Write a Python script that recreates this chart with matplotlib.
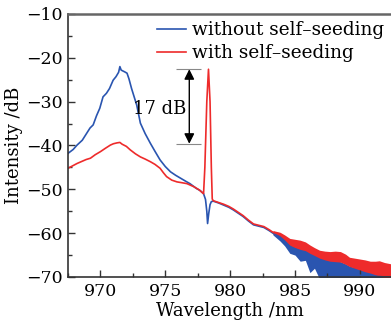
import numpy as np
import matplotlib
matplotlib.use("Agg")
import matplotlib.pyplot as plt
from matplotlib.ticker import MultipleLocator

plt.rcParams['font.family'] = ['DejaVu Serif']
plt.rcParams['font.size'] = 13

# spectrum without self-seeding (smooth part)
wl_blue = [967.5, 967.9, 968.2, 968.6, 968.9, 969.2, 969.44, 969.7, 969.95, 970.2,
           970.46, 970.7, 970.98, 971.2, 971.4, 971.5, 971.6, 971.87, 972.05, 972.2,
           972.4, 972.6, 972.8, 973.08, 973.45, 973.85, 974.2, 974.6, 975.0, 975.4,
           975.8, 976.2, 976.6, 976.9, 977.4, 977.7, 977.95, 978.1, 978.2, 978.26,
           978.35, 978.45, 978.55, 978.7, 979.1, 979.5, 979.9, 980.25, 980.6, 981.0,
           981.4, 981.8, 982.2, 982.6, 983.0, 983.3]
int_blue = [-41.8, -40.9, -39.9, -38.8, -37.4, -36.0, -35.3, -33.2, -31.5, -28.9,
            -28.1, -27.0, -25.1, -24.3, -23.3, -22.0, -22.8, -23.2, -23.5, -24.8,
            -27.0, -28.9, -30.8, -34.9, -37.3, -39.5, -41.3, -43.3, -44.8, -46.0,
            -46.8, -47.5, -48.2, -48.7, -49.8, -50.3, -51.0, -52.3, -55.0, -57.8,
            -55.5, -53.5, -52.8, -52.7, -53.1, -53.6, -54.1, -54.7, -55.4, -56.2,
            -57.2, -58.1, -58.4, -58.7, -59.4, -60.0]

# spectrum with self-seeding (smooth part)
wl_red = [967.5, 968.2, 968.9, 969.23, 969.6, 970.0, 970.4, 970.77, 971.0, 971.28,
          971.5, 971.67, 972.0, 972.3, 972.7, 973.08, 973.45, 973.85, 974.2, 974.6,
          974.85, 975.1, 975.5, 975.9, 976.3, 976.67, 977.2, 977.6, 977.95, 978.05,
          978.2, 978.33, 978.45, 978.55, 978.62, 978.7, 979.1, 979.5, 979.9, 980.25,
          980.6, 981.0, 981.4, 981.8, 982.2, 982.6, 983.0, 983.3]
int_red = [-45.2, -44.1, -43.2, -42.9, -42.1, -41.4, -40.6, -39.9, -39.6, -39.4,
           -39.3, -39.7, -40.2, -41.0, -41.9, -42.6, -43.1, -43.7, -44.3, -45.2,
           -46.2, -47.1, -47.9, -48.3, -48.5, -48.7, -49.4, -50.1, -51.0, -45.0,
           -30.0, -22.6, -30.0, -45.0, -52.2, -52.6, -53.0, -53.4, -53.9, -54.5,
           -55.2, -56.0, -57.0, -57.9, -58.2, -58.5, -59.2, -59.8]

# noisy long-wavelength tail: centre line and envelope
wl_tail = [983.3, 983.85, 984.2, 984.6, 985.0, 985.4, 985.8, 986.15, 986.5, 986.9,
           987.3, 987.7, 988.1, 988.5, 988.9, 989.2, 989.6, 990.0, 990.4, 990.8,
           991.2, 991.5, 991.9, 992.4]
blue_mid = [-60.0, -60.9, -61.8, -63.0, -63.6, -64.2, -64.9, -65.8, -66.4, -67.0,
            -67.6, -68.1, -68.4, -68.8, -69.1, -69.3, -69.5, -69.6, -69.7, -69.8,
            -69.9, -69.9, -70.0, -70.0]
blue_lo = [-60.4, -61.8, -62.9, -64.6, -65.0, -66.4, -66.2, -69.0, -68.0, -70.5,
           -70.5, -70.5, -70.5, -70.5, -70.5, -70.5, -70.5, -70.5, -70.5, -70.5,
           -70.5, -70.5, -70.5, -70.5]
blue_hi = [-59.6, -60.4, -61.2, -62.3, -62.6, -63.0, -63.5, -64.0, -64.6, -65.0,
           -65.4, -65.8, -66.1, -66.5, -67.0, -67.5, -67.8, -68.0, -68.3, -68.5,
           -68.7, -68.8, -68.9, -69.0]
red_mid = [-59.8, -60.3, -61.0, -62.0, -62.3, -62.6, -63.0, -63.6, -64.2, -64.8,
           -65.1, -65.3, -65.3, -65.4, -65.9, -66.5, -66.8, -67.1, -67.4, -67.7,
           -68.0, -68.1, -68.3, -68.6]
red_lo = [-60.2, -60.9, -61.7, -62.9, -63.3, -63.7, -64.0, -64.6, -65.1, -65.7,
          -66.1, -66.4, -66.5, -66.6, -67.1, -67.6, -68.0, -68.4, -68.8, -69.1,
          -69.5, -69.8, -70.1, -70.5]
red_hi = [-59.4, -59.8, -60.4, -61.2, -61.4, -61.6, -62.0, -62.7, -63.3, -63.9,
          -64.1, -64.2, -64.1, -64.2, -64.8, -65.5, -65.7, -65.9, -66.1, -66.4,
          -66.4, -66.3, -66.7, -67.0]

peak_db = -22.6
gain_db = 17

blue = '#2a55b0'
red = '#ee2b2b'

fig = plt.figure(figsize=(3.91, 3.31), dpi=100)
ax = fig.add_axes([68/391, 54/331, 323/391, 263/331])

ax.plot(wl_blue + wl_tail[1:], int_blue + blue_mid[1:], color=blue, lw=1.2,
        label='without self\u2013seeding')
ax.fill_between(wl_tail, blue_lo, blue_hi, color=blue, lw=0)
ax.plot(wl_red + wl_tail[1:], int_red + red_mid[1:], color=red, lw=1.2,
        label='with self\u2013seeding')
ax.fill_between(wl_tail, red_lo, red_hi, color=red, lw=0)

# 17 dB marker
ax.hlines([peak_db, peak_db - gain_db], 975.8, 977.75, color='#888888', lw=0.8)
ax.annotate('', xy=(976.85, peak_db), xytext=(976.85, peak_db - gain_db),
            arrowprops=dict(arrowstyle='<|-|>', color='black', lw=1.0,
                            mutation_scale=15, shrinkA=0, shrinkB=0))
ax.text(974.55, -31.6, '17 dB', ha='center', va='center')

ax.set_xlim(967.5, 992.4)
ax.set_ylim(-70, -10)
ax.xaxis.set_major_locator(MultipleLocator(5))
ax.xaxis.set_minor_locator(MultipleLocator(2.5))
ax.yaxis.set_major_locator(MultipleLocator(10))
ax.yaxis.set_minor_locator(MultipleLocator(5))
ax.tick_params(which='both', direction='in', top=False, right=False,
               color='#333333', labelsize=12.5)
ax.tick_params(which='major', length=5, width=1, pad=4)
ax.tick_params(which='minor', length=3, width=1)

ax.spines['right'].set_visible(False)
ax.spines['top'].set_color('#666666')
ax.spines['top'].set_linewidth(1.8)
for s in ('left', 'bottom'):
    ax.spines[s].set_color('#333333')
    ax.spines[s].set_linewidth(1.2)

ax.set_xlabel('Wavelength /nm', labelpad=2)
ax.set_ylabel('Intensity /dB', labelpad=2)

ax.legend(loc='upper left', bbox_to_anchor=(0.275, 0.972), frameon=False,
          fontsize=13.3, handlelength=1.57, handletextpad=0.32,
          labelspacing=0.25, borderpad=0, borderaxespad=0)

fig.savefig('out.png', dpi=100)
